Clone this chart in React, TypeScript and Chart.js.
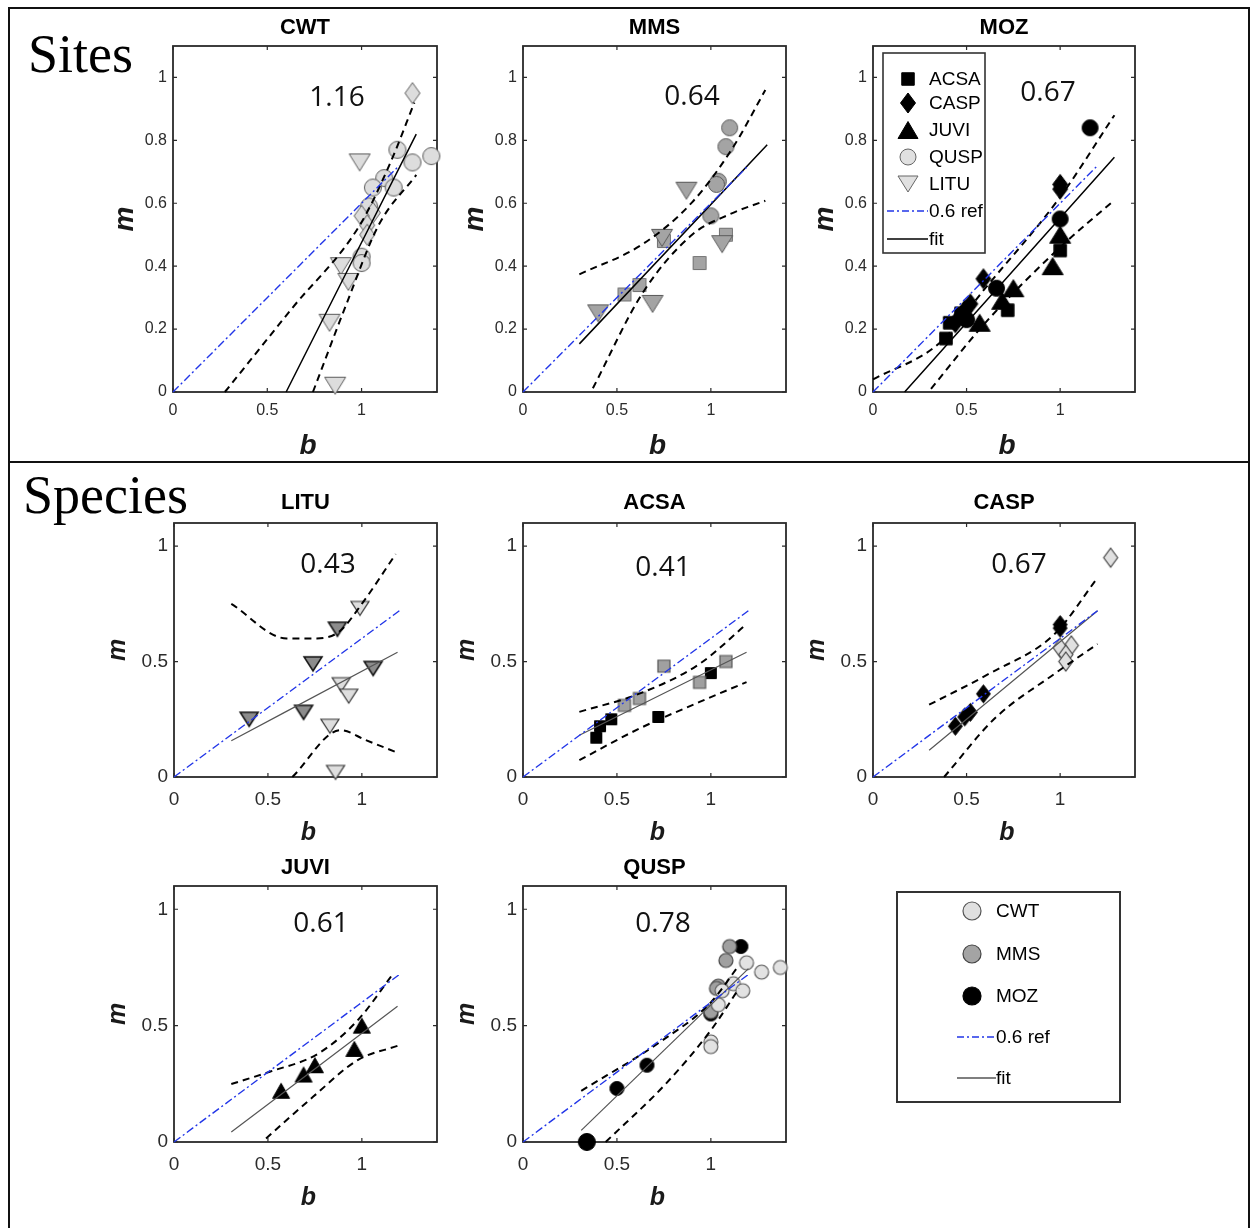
import React, { useEffect, useRef } from "react";
import { Chart, registerables } from "chart.js";
Chart.register(...registerables);

type Pt = [number, number];

// ---------------- tick labels ----------------
const B_TICKS = [0, 0.5, 1];
const M_TICKS_SITES = [0, 0.2, 0.4, 0.6, 0.8, 1];
const M_TICKS_SPECIES = [0, 0.5, 1];

// ---------------- reference line (m = 0.6 b) ----------------
const REF_06: Pt[] = [[0, 0], [1.2, 0.72]];

// ---------------- CWT site ----------------
const cwtQUSP: Pt[] = [[1.19, 0.77], [1.37, 0.75], [1.27, 0.73], [1.12, 0.68], [1.06, 0.65], [1.17, 0.65], [1.04, 0.59], [1.0, 0.43], [1.0, 0.41]];
const cwtCASP: Pt[] = [[1.27, 0.95], [1.06, 0.57], [1.0, 0.56], [1.03, 0.53], [1.03, 0.5]];
const cwtLITU: Pt[] = [[0.99, 0.73], [0.89, 0.4], [0.93, 0.35], [0.83, 0.22], [0.86, 0.02]];
const cwtFit: Pt[] = [[0.6, 0], [1.29, 0.82]];
const cwtUpper: Pt[] = [[0.275, 0], [0.63, 0.265], [0.99, 0.53], [1.15, 0.725], [1.28, 0.92]];
const cwtLower: Pt[] = [[0.742, 0], [0.92, 0.28], [1.09, 0.53], [1.29, 0.69]];

// ---------------- MMS site ----------------
const mmsQUSP: Pt[] = [[1.1, 0.84], [1.08, 0.78], [1.04, 0.67], [1.03, 0.66], [1.0, 0.56]];
const mmsACSA: Pt[] = [[1.08, 0.5], [0.94, 0.41], [0.62, 0.34], [0.54, 0.31], [0.75, 0.48]];
const mmsLITU: Pt[] = [[0.87, 0.64], [0.74, 0.49], [1.06, 0.47], [0.4, 0.25], [0.69, 0.28]];
const mmsFit: Pt[] = [[0.3, 0.153], [1.3, 0.786]];
const mmsUpper: Pt[] = [[0.3, 0.374], [0.637, 0.47], [0.9, 0.603], [1.113, 0.773], [1.29, 0.96]];
const mmsLower: Pt[] = [[0.372, 0.012], [0.637, 0.315], [0.9, 0.5], [1.1, 0.565], [1.29, 0.608]];

// ---------------- MOZ site ----------------
const mozACSA: Pt[] = [[0.39, 0.17], [0.41, 0.22], [0.47, 0.25], [0.72, 0.26], [1.0, 0.45]];
const mozCASP: Pt[] = [[1.0, 0.66], [1.0, 0.645], [0.59, 0.36], [0.52, 0.28], [0.49, 0.26], [0.44, 0.22]];
const mozJUVI: Pt[] = [[1.0, 0.5], [0.96, 0.4], [0.75, 0.33], [0.69, 0.29], [0.57, 0.22]];
const mozQUSP: Pt[] = [[1.16, 0.84], [1.0, 0.55], [0.66, 0.33], [0.5, 0.23]];
const mozQUSPLow: Pt[] = [[0.34, 0.0]];
const mozFit: Pt[] = [[0.169, 0], [1.29, 0.746]];
const mozUpper: Pt[] = [[0, 0.04], [0.354, 0.155], [0.6, 0.33], [1.0, 0.62], [1.29, 0.88]];
const mozLower: Pt[] = [[0.31, 0.01], [0.6, 0.22], [1.0, 0.46], [1.29, 0.61]];

// ---------------- species fits / bands ----------------
const lituFit: Pt[] = [[0.305, 0.157], [1.19, 0.54]];
const lituUpper: Pt[] = [[0.305, 0.75], [0.6, 0.6], [0.76, 0.6], [0.88, 0.63], [1.0, 0.75], [1.18, 0.965]];
const lituLower: Pt[] = [[0.63, 0.0], [0.887, 0.203], [1.02, 0.16], [1.178, 0.109]];

const acsaFit: Pt[] = [[0.3, 0.181], [1.19, 0.54]];
const acsaUpper: Pt[] = [[0.3, 0.282], [0.62, 0.361], [0.94, 0.49], [1.19, 0.662]];
const acsaLower: Pt[] = [[0.3, 0.073], [0.62, 0.21], [0.94, 0.325], [1.19, 0.411]];

const caspFit: Pt[] = [[0.3, 0.116], [1.2, 0.72]];
const caspUpper: Pt[] = [[0.3, 0.313], [0.62, 0.447], [0.97, 0.619], [1.2, 0.863]];
const caspLower: Pt[] = [[0.38, 0.0], [0.65, 0.253], [0.97, 0.447], [1.2, 0.576]];

const juviFit: Pt[] = [[0.305, 0.043], [1.19, 0.583]];
const juviUpper: Pt[] = [[0.305, 0.249], [0.51, 0.302], [0.77, 0.381], [0.98, 0.525], [1.17, 0.727]];
const juviLower: Pt[] = [[0.49, 0.015], [0.74, 0.194], [0.98, 0.353], [1.19, 0.413]];

const quspFit: Pt[] = [[0.31, 0.05], [1.2, 0.745]];
const quspUpper: Pt[] = [[0.31, 0.22], [0.73, 0.43], [1.0, 0.6], [1.15, 0.76]];
const quspLower: Pt[] = [[0.44, 0.0], [0.76, 0.25], [1.0, 0.48], [1.15, 0.66]];

// ---------------- styling ----------------
const FONT = "'Liberation Sans', Arial, Helvetica, sans-serif";
const ANNOT_FONT = "'Open Sans', 'Liberation Sans', sans-serif";
const BLUE = "#2236e8";
const TICK_COLOR = "#2b2b2b";
const BOX_COLOR = "#2a2a2a";
const LEFT = 72;
const RIGHT = 24;
const TOP = 50;
const BOTTOM = 76;

type Shape = "circle" | "rect" | "diamond" | "triangle" | "triangleDown";
interface MarkerSet { pts: Pt[]; shape: Shape; fill: string; edge: string; w: number; h: number; bw: number; }
interface PanelDef {
  title: string;
  area: [number, number, number, number];
  mTicks: number[];
  slope: string;
  slopeAt: [number, number];
  markers: MarkerSet[];
  fit: Pt[];
  fitColor: string;
  fitWidth: number;
  upper: Pt[];
  lower: Pt[];
  tickFont: number;
  xPad: number;
  titleDy: number;
  bDy: number;
  mDx: number;
  labFont: number;
  legend?: boolean;
}

const LIGHT = { fill: "#dddddd", edge: "#5c5c5c" };
const MID = { fill: "#a4a4a4", edge: "#5a5a5a" };
const BLACK = { fill: "#000000", edge: "#000000" };

const TOPROW = { tickFont: 16, xPad: 9, titleDy: -18, bDy: 54, mDx: -48, labFont: 28, mTicks: M_TICKS_SITES, fitColor: "#000", fitWidth: 1.5 };
const SPROW = { tickFont: 19, xPad: 11, bDy: 56, mDx: -56, labFont: 25, mTicks: M_TICKS_SPECIES, fitColor: "#555", fitWidth: 1.2 };

const PANELS: PanelDef[] = [
  {
    ...TOPROW, title: "CWT", area: [173, 46, 264, 346], slope: "1.16", slopeAt: [164, 52],
    markers: [
      { pts: cwtQUSP, shape: "circle", ...LIGHT, w: 17, h: 17, bw: 1 },
      { pts: cwtCASP, shape: "diamond", ...LIGHT, w: 15, h: 21, bw: 1 },
      { pts: cwtLITU, shape: "triangleDown", ...LIGHT, w: 21, h: 17, bw: 1 },
    ],
    fit: cwtFit, upper: cwtUpper, lower: cwtLower,
  },
  {
    ...TOPROW, title: "MMS", area: [523, 46, 263, 346], slope: "0.64", slopeAt: [169, 51],
    markers: [
      { pts: mmsACSA, shape: "rect", ...MID, w: 13, h: 13, bw: 0.8 },
      { pts: mmsQUSP, shape: "circle", ...MID, w: 16, h: 16, bw: 1 },
      { pts: mmsLITU, shape: "triangleDown", ...MID, w: 21, h: 17, bw: 1 },
    ],
    fit: mmsFit, upper: mmsUpper, lower: mmsLower,
  },
  {
    ...TOPROW, title: "MOZ", area: [873, 46, 262, 346], slope: "0.67", slopeAt: [175, 47], legend: true,
    markers: [
      { pts: mozACSA, shape: "rect", ...BLACK, w: 12.5, h: 12.5, bw: 1 },
      { pts: mozCASP, shape: "diamond", ...BLACK, w: 15, h: 20, bw: 1 },
      { pts: mozJUVI, shape: "triangle", ...BLACK, w: 21, h: 17, bw: 1 },
      { pts: mozQUSP, shape: "circle", ...BLACK, w: 16, h: 16, bw: 1 },
    ],
    fit: mozFit, upper: mozUpper, lower: mozLower,
  },
  {
    ...SPROW, title: "LITU", area: [174, 523, 263, 254], titleDy: -20, slope: "0.43", slopeAt: [154, 42],
    markers: [
      { pts: mmsLITU, shape: "triangleDown", fill: "#8c8c8c", edge: "#111", w: 18, h: 14, bw: 1.5 },
      { pts: cwtLITU, shape: "triangleDown", fill: "#dedede", edge: "#333", w: 18, h: 14, bw: 1.2 },
    ],
    fit: lituFit, upper: lituUpper, lower: lituLower,
  },
  {
    ...SPROW, title: "ACSA", area: [523, 523, 263, 254], titleDy: -20, slope: "0.41", slopeAt: [140, 45],
    markers: [
      { pts: mozACSA, shape: "rect", ...BLACK, w: 11, h: 11, bw: 1 },
      { pts: mmsACSA, shape: "rect", fill: "#a0a0a0", edge: "#555", w: 12, h: 12, bw: 1.2 },
    ],
    fit: acsaFit, upper: acsaUpper, lower: acsaLower,
  },
  {
    ...SPROW, title: "CASP", area: [873, 523, 262, 254], titleDy: -20, slope: "0.67", slopeAt: [146, 42],
    markers: [
      { pts: mozCASP, shape: "diamond", ...BLACK, w: 14, h: 18, bw: 1 },
      { pts: cwtCASP, shape: "diamond", fill: "#e0e0e0", edge: "#444", w: 14, h: 19, bw: 1.2 },
    ],
    fit: caspFit, upper: caspUpper, lower: caspLower,
  },
  {
    ...SPROW, title: "JUVI", area: [174, 886, 263, 256], titleDy: -18, slope: "0.61", slopeAt: [147, 38],
    markers: [
      { pts: mozJUVI, shape: "triangle", ...BLACK, w: 17, h: 15, bw: 1 },
    ],
    fit: juviFit, upper: juviUpper, lower: juviLower,
  },
  {
    ...SPROW, title: "QUSP", area: [523, 886, 263, 256], titleDy: -18, slope: "0.78", slopeAt: [140, 38],
    markers: [
      { pts: mozQUSP, shape: "circle", ...BLACK, w: 14, h: 14, bw: 1 },
      { pts: mozQUSPLow, shape: "circle", ...BLACK, w: 17, h: 17, bw: 1 },
      { pts: mmsQUSP, shape: "circle", fill: "#a0a0a0", edge: "#444", w: 14, h: 14, bw: 1.2 },
      { pts: cwtQUSP, shape: "circle", fill: "#e2e2e2", edge: "#555", w: 14, h: 14, bw: 1.1 },
    ],
    fit: quspFit, upper: quspUpper, lower: quspLower,
  },
];

function drawMarker(ctx: CanvasRenderingContext2D, shape: Shape, x: number, y: number, w: number, h: number, fill: string, edge: string, bw: number) {
  const hw = w / 2, hh = h / 2;
  ctx.save();
  ctx.beginPath();
  if (shape === "circle") ctx.ellipse(x, y, hw, hh, 0, 0, Math.PI * 2);
  else if (shape === "rect") ctx.rect(x - hw, y - hh, w, h);
  else if (shape === "diamond") { ctx.moveTo(x, y - hh); ctx.lineTo(x + hw, y); ctx.lineTo(x, y + hh); ctx.lineTo(x - hw, y); ctx.closePath(); }
  else if (shape === "triangle") { ctx.moveTo(x, y - hh); ctx.lineTo(x + hw, y + hh); ctx.lineTo(x - hw, y + hh); ctx.closePath(); }
  else { ctx.moveTo(x, y + hh); ctx.lineTo(x + hw, y - hh); ctx.lineTo(x - hw, y - hh); ctx.closePath(); }
  ctx.fillStyle = fill;
  ctx.fill();
  if (bw > 0) { ctx.lineWidth = bw; ctx.strokeStyle = edge; ctx.lineJoin = "miter"; ctx.stroke(); }
  ctx.restore();
}

function markerImage(m: MarkerSet): HTMLCanvasElement {
  const pad = 3;
  const cw = Math.ceil(m.w + m.bw + pad * 2);
  const ch = Math.ceil(m.h + m.bw + pad * 2);
  const c = document.createElement("canvas");
  c.width = cw;
  c.height = ch;
  const ctx = c.getContext("2d")!;
  drawMarker(ctx, m.shape, cw / 2, ch / 2, m.w, m.h, m.fill, m.edge, m.bw);
  return c;
}

function drawLegendLine(ctx: CanvasRenderingContext2D, x0: number, x1: number, y: number, color: string, dash: number[], w: number) {
  ctx.save();
  ctx.beginPath();
  ctx.setLineDash(dash);
  ctx.strokeStyle = color;
  ctx.lineWidth = w;
  ctx.moveTo(x0, y);
  ctx.lineTo(x1, y);
  ctx.stroke();
  ctx.restore();
}

const MOZ_LEGEND_ITEMS: { label: string; shape: Shape | "ref" | "fit"; fill: string; edge: string; w: number; h: number }[] = [
  { label: "ACSA", shape: "rect", fill: "#000", edge: "#000", w: 12.5, h: 12.5 },
  { label: "CASP", shape: "diamond", fill: "#000", edge: "#000", w: 15, h: 20 },
  { label: "JUVI", shape: "triangle", fill: "#000", edge: "#000", w: 20, h: 17 },
  { label: "QUSP", shape: "circle", fill: "#e0e0e0", edge: "#666", w: 16, h: 16 },
  { label: "LITU", shape: "triangleDown", fill: "#e0e0e0", edge: "#666", w: 20, h: 16 },
  { label: "0.6 ref", shape: "ref", fill: "", edge: "", w: 0, h: 0 },
  { label: "fit", shape: "fit", fill: "", edge: "", w: 0, h: 0 },
];

function Panel({ def }: { def: PanelDef }) {
  const ref = useRef<HTMLCanvasElement | null>(null);
  const [L, T, W, H] = def.area;
  const cw = LEFT + W + RIGHT;
  const ch = TOP + H + BOTTOM;
  useEffect(() => {
    const canvas = ref.current!;
    const line = (pts: Pt[], color: string, width: number, dash: number[]) => ({
      data: pts.map(([x, y]) => ({ x, y })),
      showLine: true,
      borderColor: color,
      borderWidth: width,
      borderDash: dash,
      pointRadius: 0,
      pointHoverRadius: 0,
      pointHitRadius: 0,
      fill: false,
      clip: false,
      tension: 0.35,
      cubicInterpolationMode: "monotone",
    });
    const marks = [...def.markers].reverse().map((m) => ({
      data: m.pts.map(([x, y]) => ({ x, y })),
      showLine: false,
      pointStyle: markerImage(m),
      pointRadius: Math.max(m.w, m.h) / 2,
      pointHoverRadius: Math.max(m.w, m.h) / 2,
      pointBackgroundColor: m.fill,
      pointBorderColor: m.edge,
      pointBorderWidth: m.bw,
      clip: false,
    }));
    const datasets: any[] = [
      line(REF_06, BLUE, 1.4, [8, 3, 2, 3]),
      line(def.upper, "#000", 2, [7, 5]),
      line(def.lower, "#000", 2, [7, 5]),
      line(def.fit, def.fitColor, def.fitWidth, []),
      ...marks,
    ];

    const decor = {
      id: "decor",
      beforeDatasetsDraw(chart: any) {
        const { ctx, chartArea: a, scales } = chart;
        ctx.save();
        ctx.strokeStyle = BOX_COLOR;
        ctx.lineWidth = 1.8;
        ctx.strokeRect(a.left, a.top, a.right - a.left, a.bottom - a.top);
        ctx.lineWidth = 1.2;
        ctx.beginPath();
        for (const v of B_TICKS) {
          const x = scales.x.getPixelForValue(v);
          ctx.moveTo(x, a.bottom); ctx.lineTo(x, a.bottom - 4);
          ctx.moveTo(x, a.top); ctx.lineTo(x, a.top + 4);
        }
        for (const v of def.mTicks) {
          const y = scales.y.getPixelForValue(v);
          ctx.moveTo(a.left, y); ctx.lineTo(a.left + 4, y);
          ctx.moveTo(a.right, y); ctx.lineTo(a.right - 4, y);
        }
        ctx.stroke();
        ctx.restore();
      },
      afterDatasetsDraw(chart: any) {
        if (!def.legend) return;
        const { ctx, chartArea: a } = chart;
        const bx = a.left + 10, by = a.top + 7, bw = 102, bh = 200;
        ctx.save();
        ctx.fillStyle = "#fff";
        ctx.fillRect(bx, by, bw, bh);
        ctx.strokeStyle = "#333";
        ctx.lineWidth = 1.6;
        ctx.strokeRect(bx, by, bw, bh);
        const rows = [33, 57, 84, 111, 138, 165, 193];
        ctx.font = `19px ${FONT}`;
        ctx.textBaseline = "middle";
        ctx.textAlign = "left";
        MOZ_LEGEND_ITEMS.forEach((it, i) => {
          const y = a.top + rows[i];
          const mx = a.left + 35;
          if (it.shape === "ref") drawLegendLine(ctx, a.left + 14, a.left + 55, y, BLUE, [7, 3, 2, 3], 1.4);
          else if (it.shape === "fit") drawLegendLine(ctx, a.left + 14, a.left + 55, y, "#000", [], 1.4);
          else drawMarker(ctx, it.shape as Shape, mx, y, it.w, it.h, it.fill, it.edge, 1);
          ctx.fillStyle = "#000";
          ctx.fillText(it.label, a.left + 56, y + 1);
        });
        ctx.restore();
      },
      afterDraw(chart: any) {
        const { ctx, chartArea: a } = chart;
        const cx = (a.left + a.right) / 2;
        const cy = (a.top + a.bottom) / 2;
        ctx.save();
        ctx.textAlign = "center";
        ctx.textBaseline = "middle";
        ctx.fillStyle = "#000";
        ctx.font = `bold 22px ${FONT}`;
        ctx.fillText(def.title, cx, a.top + def.titleDy);
        ctx.fillStyle = "#1a1a1a";
        ctx.font = `italic bold ${def.labFont}px ${FONT}`;
        ctx.fillText("b", cx + 3, a.bottom + def.bDy);
        ctx.save();
        ctx.translate(a.left + def.mDx, cy);
        ctx.rotate(-Math.PI / 2);
        ctx.fillText("m", 0, 0);
        ctx.restore();
        ctx.fillStyle = "#111";
        ctx.font = `28px ${ANNOT_FONT}`;
        ctx.fillText(def.slope, a.left + def.slopeAt[0], a.top + def.slopeAt[1]);
        ctx.restore();
      },
    };

    const chart = new Chart(canvas, {
      type: "scatter",
      data: { datasets },
      options: {
        responsive: false,
        maintainAspectRatio: false,
        animation: false,
        devicePixelRatio: 1,
        events: [],
        layout: { padding: { left: 0, top: TOP, right: RIGHT, bottom: 0 } },
        plugins: { legend: { display: false }, tooltip: { enabled: false }, title: { display: false } },
        scales: {
          x: {
            type: "linear",
            min: 0,
            max: 1.4,
            afterBuildTicks: (s: any) => { s.ticks = B_TICKS.map((v) => ({ value: v })); },
            afterFit: (s: any) => { s.height = BOTTOM; },
            grid: { display: false, drawTicks: false },
            border: { display: false },
            ticks: { padding: def.xPad, color: TICK_COLOR, autoSkip: false, maxRotation: 0, font: { family: FONT, size: def.tickFont }, callback: (v: any) => String(v) },
          },
          y: {
            type: "linear",
            min: 0,
            max: 1.1,
            afterBuildTicks: (s: any) => { s.ticks = def.mTicks.map((v) => ({ value: v })); },
            afterFit: (s: any) => { s.width = LEFT; },
            grid: { display: false, drawTicks: false },
            border: { display: false },
            ticks: { padding: 6, color: TICK_COLOR, autoSkip: false, font: { family: FONT, size: def.tickFont }, callback: (v: any) => String(v) },
          },
        },
      } as any,
      plugins: [decor],
    });
    return () => chart.destroy();
  }, []);
  return (
    <canvas
      ref={ref}
      width={cw}
      height={ch}
      style={{ position: "absolute", left: L - LEFT, top: T - TOP, width: cw, height: ch }}
    />
  );
}

const SPECIES_LEGEND: { label: string; kind: "dot" | "ref" | "fit"; fill: string; edge: string }[] = [
  { label: "CWT", kind: "dot", fill: "#e0e0e0", edge: "#555" },
  { label: "MMS", kind: "dot", fill: "#a4a4a4", edge: "#444" },
  { label: "MOZ", kind: "dot", fill: "#000", edge: "#000" },
  { label: "0.6 ref", kind: "ref", fill: "", edge: "" },
  { label: "fit", kind: "fit", fill: "", edge: "" },
];

function SpeciesLegend() {
  const ref = useRef<HTMLCanvasElement | null>(null);
  useEffect(() => {
    const ctx = ref.current!.getContext("2d")!;
    ctx.clearRect(0, 0, 232, 220);
    ctx.strokeStyle = "#333";
    ctx.lineWidth = 2;
    ctx.strokeRect(4, 4, 223, 210);
    const rows = [23, 66, 108, 149, 190];
    ctx.font = `19px ${FONT}`;
    ctx.textBaseline = "middle";
    ctx.textAlign = "left";
    SPECIES_LEGEND.forEach((it, i) => {
      const y = rows[i];
      if (it.kind === "dot") drawMarker(ctx, "circle", 79, y, 18, 18, it.fill, it.edge, 1.2);
      else if (it.kind === "ref") drawLegendLine(ctx, 64, 103, y, BLUE, [7, 3, 2, 3], 1.4);
      else drawLegendLine(ctx, 64, 103, y, "#000", [], 1.2);
      ctx.fillStyle = "#000";
      ctx.fillText(it.label, it.kind === "dot" ? 103 : 103, y + 1);
    });
  }, []);
  return <canvas ref={ref} width={232} height={220} style={{ position: "absolute", left: 893, top: 888 }} />;
}

export default function App() {
  return (
    <div style={{ position: "absolute", left: 0, top: 0, width: 1250, height: 1228, overflow: "hidden", background: "#fff" }}>
      <div style={{ position: "absolute", left: 8, top: 7, width: 1238, height: 1300, borderLeft: "2px solid #111", borderTop: "2px solid #111", borderRight: "2px solid #111" }} />
      <div style={{ position: "absolute", left: 8, top: 461, width: 1242, height: 2, background: "#111" }} />
      <div style={{ position: "absolute", left: 28, top: 27, fontFamily: "'Liberation Serif', 'Times New Roman', serif", fontSize: 54, lineHeight: "54px", color: "#000" }}>Sites</div>
      <div style={{ position: "absolute", left: 23, top: 468, fontFamily: "'Liberation Serif', 'Times New Roman', serif", fontSize: 54, lineHeight: "54px", color: "#000" }}>Species</div>
      {PANELS.map((p) => (
        <Panel key={p.title} def={p} />
      ))}
      <SpeciesLegend />
    </div>
  );
}
